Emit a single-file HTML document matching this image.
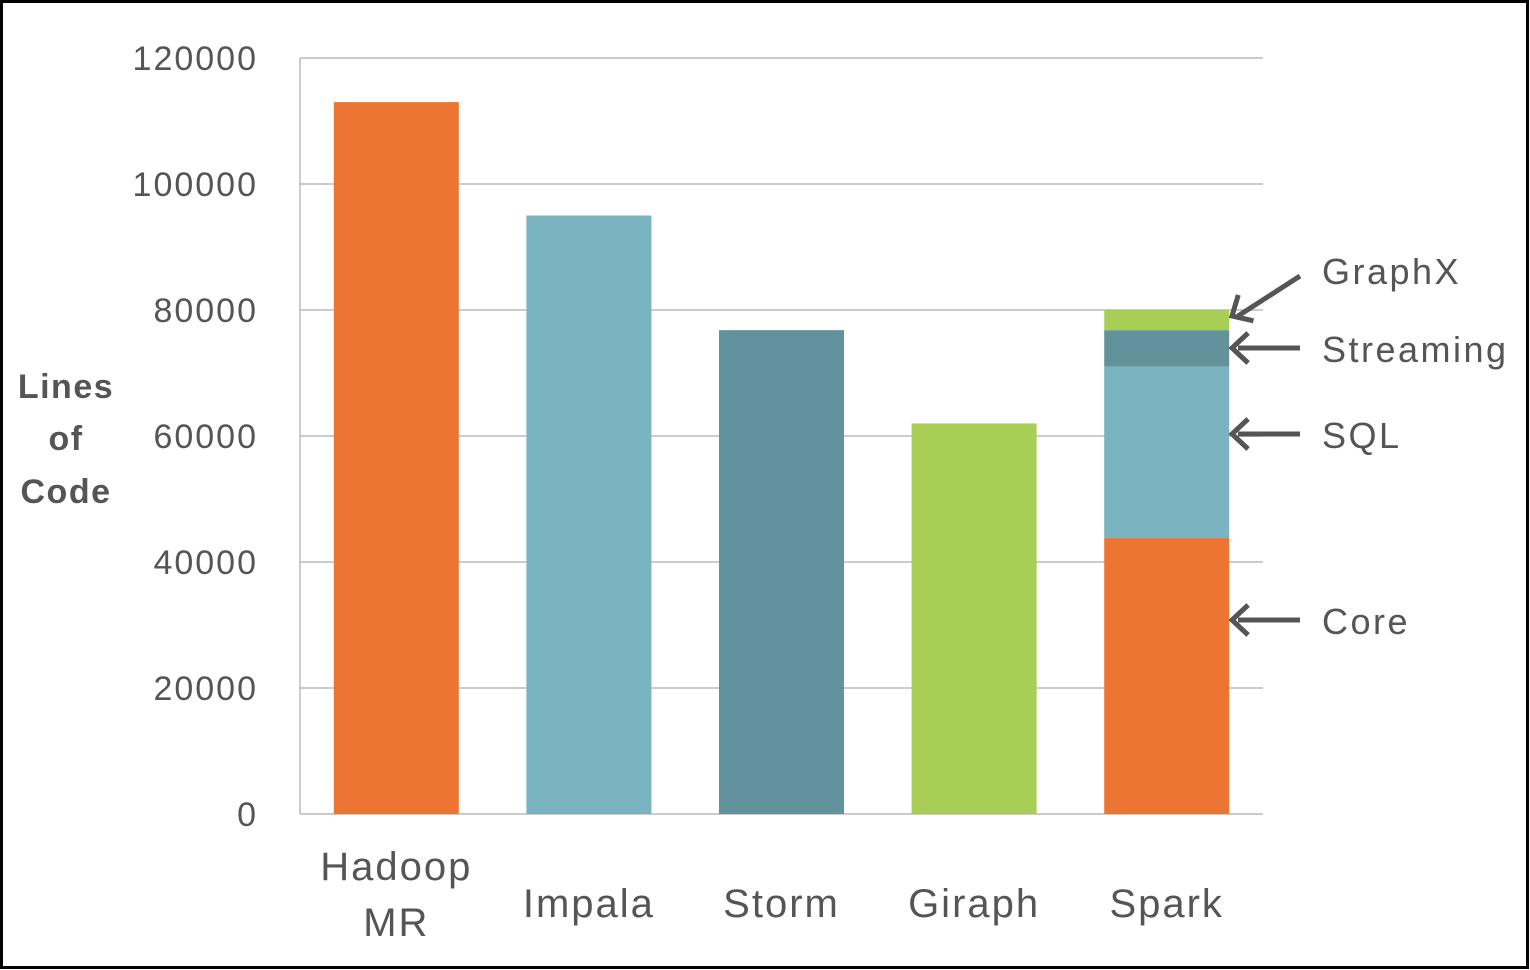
<!DOCTYPE html>
<html><head><meta charset="utf-8"><style>
html,body{margin:0;padding:0;background:#fff;}
svg{display:block;font-family:"Liberation Sans",sans-serif;}
</style></head><body>
<svg id="chart" width="1530" height="970" viewBox="0 0 1530 970">
<rect x="1.5" y="1.5" width="1526" height="966" fill="#fff" stroke="#000" stroke-width="3"/>
<g id="grid"></g><g id="bars"></g><g id="labels"></g><g id="ann"></g>
<text x="66" y="398" text-anchor="middle" font-size="34" font-weight="bold" fill="#555" letter-spacing="1.5"><tspan x="66">Lines</tspan><tspan x="66" dy="52">of</tspan><tspan x="66" dy="53">Code</tspan></text>
</svg>
<script>
const categories=["Hadoop MR","Impala","Storm","Giraph","Spark"];
const singleValues=[113000,95000,76800,62000,null];
const singleColors=["#EC7533","#7AB4C0","#62939C","#A8CE55",null];
const sparkParts=["Core","SQL","Streaming","GraphX"];
const sparkValues=[43800,27200,5800,3200];
const sparkColors=["#EC7533","#7AB4C0","#62939C","#A8CE55"];
const yTicks=[0,20000,40000,60000,80000,100000,120000];
const NS="http://www.w3.org/2000/svg";
const L=300,R=1263,T=58,B=814,YMAX=120000;
const y=v=>B-(v/YMAX)*(B-T);
const band=(R-L)/categories.length;
const cx=i=>L+band*(i+0.5);
const BW=125;
function mk(t,a,p){const e=document.createElementNS(NS,t);for(const k in a)e.setAttribute(k,a[k]);p.appendChild(e);return e;}
const grid=document.getElementById('grid');
yTicks.forEach(t=>{
 const l=mk('line',{x1:L,x2:R,y1:y(t),y2:y(t),stroke:'#bbb','stroke-width':1.5},grid);
 
 
 const tx=mk('text',{x:258,y:y(t)+12,'text-anchor':'end','font-size':34,fill:'#555','letter-spacing':2},grid);
 tx.textContent=t;
 
 
});
const ax=mk('line',{x1:L,x2:L,y1:T,y2:B,stroke:'#bbb','stroke-width':1.5},grid);


const bars=document.getElementById('bars');
categories.forEach((c,i)=>{
 if(singleValues[i]!==null){
  const r=mk('rect',{x:cx(i)-BW/2,y:y(singleValues[i]),width:BW,height:B-y(singleValues[i]),fill:singleColors[i]},bars);
  
  
 } else {
  let acc=0;
  sparkValues.forEach((v,j)=>{
   const r=mk('rect',{x:cx(i)-BW/2,y:y(acc+v),width:BW,height:y(acc)-y(acc+v),fill:sparkColors[j]},bars);
   
   
   acc+=v;
  });
 }
});
const lab=document.getElementById('labels');
categories.forEach((c,i)=>{
 const words=c.split(' ');
 const t=mk('text',{'text-anchor':'middle','font-size':40,fill:'#555','letter-spacing':2},lab);
 
 
 if(words.length>1){
  words.forEach((w,k)=>{const s=mk('tspan',{x:cx(i),y:880+k*56},t);s.textContent=w;});
 } else {t.setAttribute('x',cx(i));t.setAttribute('y',917);t.textContent=c;}
});
const ann=document.getElementById('ann');
const annY=[620,434,348,286];
const textY=[634,448,362,284];
const ax0=1232;
sparkParts.forEach((p,j)=>{
 const g=mk('g',{},ann);
 
 
 let tipY=annY[j], tailX=1300, tailY=annY[j];
 if(j===3){tipY=316;tailY=276;}
 mk('line',{x1:tailX,y1:tailY,x2:ax0+6,y2:tipY,stroke:'#555','stroke-width':5},g);
 const ang=Math.atan2(tailY-tipY,tailX-ax0);
 const hx=(a)=>ax0+22*Math.cos(ang+a), hy=(a)=>tipY+22*Math.sin(ang+a);
 mk('polyline',{points:`${hx(0.75)},${hy(0.75)} ${ax0},${tipY} ${hx(-0.75)},${hy(-0.75)}`,fill:'none',stroke:'#555','stroke-width':5},g);
 const t=mk('text',{x:1322,y:textY[j],'font-size':36,fill:'#555','letter-spacing':2.5},g);
 t.textContent=p;
});
</script>
</body></html>
